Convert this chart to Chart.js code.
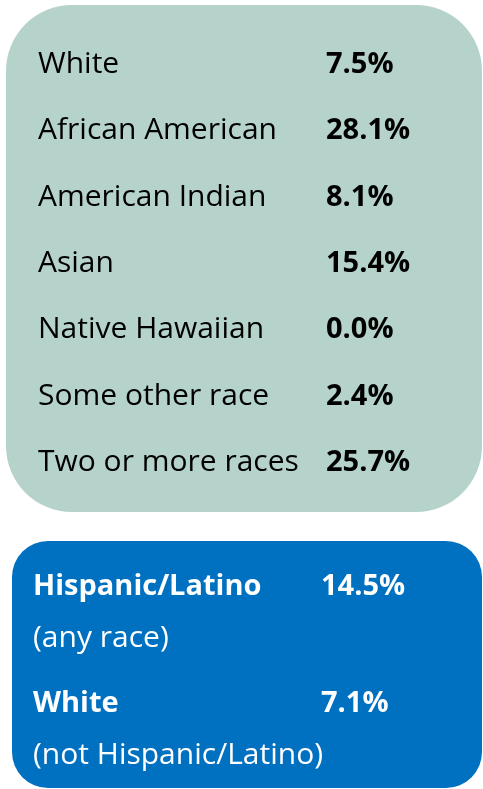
<!DOCTYPE html>
<html lang="en">
<head>
    <meta charset="UTF-8">
    <meta name="viewport" content="width=device-width, initial-scale=1.0">
    <title>Race and ethnicity</title>
    <script src="https://cdn.jsdelivr.net/npm/chart.js"></script>
    <style>
        body { margin: 0; background: #ffffff; }
        .wrap { position: relative; width: 483px; height: 789px; overflow: hidden; }
        .wrap canvas { position: absolute; left: 0; }
        #razze { top: 0; }
        #etnia { top: 520px; }
    </style>
</head>
<body>
    <div class="wrap">
        <canvas id="razze" width="483" height="520"></canvas>
        <canvas id="etnia" width="483" height="269"></canvas>
    </div>
    <script>
        // dati
        const races = ['White', 'African American', 'American Indian', 'Asian', 'Native Hawaiian', 'Some other race', 'Two or more races'];
        const raceShares = [7.5, 28.1, 8.1, 15.4, 0.0, 2.4, 25.7];
        const ethnicity = ['Hispanic/Latino', 'White'];
        const ethnicityNotes = ['(any race)', '(not Hispanic/Latino)'];
        const ethnicityShares = [14.5, 7.1];

        const FONT = '"Open Sans"';
        const REG = '30px ' + FONT;
        const BOLD = 'bold 29px ' + FONT;

        function percent(v) {
            return v.toFixed(1) + '%';
        }

        // box arrotondato dietro al grafico
        function boxPlugin(id, color, box) {
            return {
                id: id,
                beforeDraw(chart) {
                    const ctx = chart.ctx;
                    ctx.save();
                    ctx.fillStyle = color;
                    ctx.beginPath();
                    ctx.roundRect(box.x, box.y, box.w, box.h, box.r);
                    ctx.fill();
                    ctx.restore();
                }
            };
        }

        const raceText = {
            id: 'raceText',
            afterDatasetsDraw(chart) {
                const ctx = chart.ctx;
                const y = chart.scales.y;
                const vals = chart.data.datasets[0].data;
                ctx.save();
                ctx.fillStyle = '#000000';
                ctx.textBaseline = 'alphabetic';
                ctx.textAlign = 'left';
                chart.data.labels.forEach((lab, i) => {
                    const yy = y.getPixelForValue(i) + 10;
                    ctx.font = REG;
                    ctx.fillText(lab, 38, yy);
                    ctx.font = BOLD;
                    ctx.fillText(percent(vals[i]), 326, yy);
                });
                ctx.restore();
            }
        };

        const ethText = {
            id: 'ethText',
            afterDatasetsDraw(chart) {
                const ctx = chart.ctx;
                const y = chart.scales.y;
                const vals = chart.data.datasets[0].data;
                ctx.save();
                ctx.fillStyle = '#ffffff';
                ctx.textBaseline = 'alphabetic';
                ctx.textAlign = 'left';
                chart.data.labels.forEach((lab, i) => {
                    const yy = y.getPixelForValue(i) + 10;
                    ctx.font = BOLD;
                    ctx.fillText(lab, 33, yy);
                    ctx.fillText(percent(vals[i]), 321, yy);
                    ctx.font = REG;
                    ctx.fillText(ethnicityNotes[i], 33, yy + 52);
                });
                ctx.restore();
            }
        };

        function baseOptions(padding) {
            return {
                indexAxis: 'y',
                responsive: false,
                animation: false,
                layout: { padding: padding },
                plugins: {
                    legend: { display: false },
                    tooltip: { enabled: false }
                },
                scales: {
                    x: { display: false, min: 0, max: 30 },
                    y: { display: false, offset: true }
                }
            };
        }

        new Chart(document.getElementById('razze').getContext('2d'), {
            type: 'bar',
            data: {
                labels: races,
                datasets: [{
                    data: raceShares,
                    backgroundColor: 'rgba(0,0,0,0)',
                    borderWidth: 0
                }]
            },
            options: baseOptions({ top: 30, bottom: 26, left: 0, right: 0 }),
            plugins: [boxPlugin('raceBox', '#b5d3cb', { x: 6, y: 5, w: 476, h: 507, r: 66 }), raceText]
        });

        new Chart(document.getElementById('etnia').getContext('2d'), {
            type: 'bar',
            data: {
                labels: ethnicity,
                datasets: [{
                    data: ethnicityShares,
                    backgroundColor: 'rgba(0,0,0,0)',
                    borderWidth: 0
                }]
            },
            options: baseOptions({ top: 6, bottom: 29, left: 0, right: 0 }),
            plugins: [boxPlugin('ethBox', '#0070c0', { x: 12, y: 21, w: 470, h: 247, r: 36 }), ethText]
        });
    </script>
</body>
</html>
